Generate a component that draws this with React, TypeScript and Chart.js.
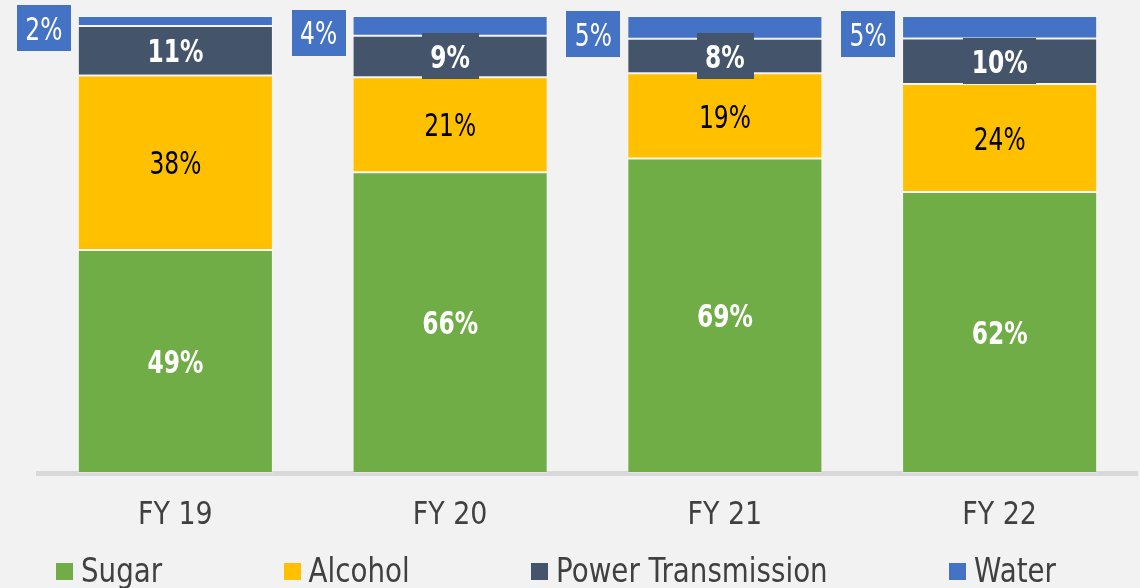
import React, { useEffect, useRef } from "react";
import { Chart, registerables } from "chart.js";

Chart.register(...registerables);

const categories = ["FY 19", "FY 20", "FY 21", "FY 22"];
const seriesNames = ["Sugar", "Alcohol", "Power Transmission", "Water"];
const sugar = [48.8, 65.8, 68.8, 61.5];
const alcohol = [38.2, 20.8, 18.7, 23.6];
const power = [10.8, 9.1, 7.5, 10.0];
const water = [2.2, 4.3, 5.0, 4.9];

const colors = ["#70AD47", "#FFC000", "#44546A", "#4472C4"];
const FONT = '"DejaVu Sans", sans-serif';
const CAP = 0.729;
const TEXT_SX = 0.84;
const LABEL_SX = 0.73;

type LabelStyle = { color: string; weight: string; box: string | null; outside: boolean };
const labelStyles: LabelStyle[] = [
  { color: "#FFFFFF", weight: "bold", box: null, outside: false },
  { color: "#000000", weight: "normal", box: null, outside: false },
  { color: "#FFFFFF", weight: "bold", box: "#44546A", outside: false },
  { color: "#FFFFFF", weight: "normal", box: "#4472C4", outside: true },
];

function drawText(ctx: any, text: string, x: number, baseline: number, sx: number, align: string) {
  ctx.save();
  ctx.textAlign = align;
  ctx.textBaseline = "alphabetic";
  ctx.translate(x, baseline);
  ctx.scale(sx, 1);
  ctx.fillText(text, 0, 0);
  ctx.restore();
}

const segLabels = {
  id: "segLabels",
  afterDatasetsDraw(chart: any) {
    const ctx = chart.ctx;
    const size = 32;
    chart.data.datasets.forEach((ds: any, di: number) => {
      const meta = chart.getDatasetMeta(di);
      const st = labelStyles[di];
      meta.data.forEach((bar: any, i: number) => {
        const p = bar.getProps(["x", "y", "base", "width"], true);
        const text = Math.round(ds.data[i]) + "%";
        ctx.save();
        ctx.font = `${st.weight} ${size}px ${FONT}`;
        const tw = ctx.measureText(text).width * LABEL_SX;
        let cx = p.x;
        let cy = (p.y + p.base) / 2;
        const bh = 46;
        const bw = tw + 17;
        if (st.outside) {
          cx = p.x - p.width / 2 - 7 - bw / 2;
          cy = cy + 7;
        }
        if (st.box) {
          ctx.fillStyle = st.box;
          ctx.fillRect(Math.round(cx - bw / 2), Math.round(cy - bh / 2), Math.round(bw), bh);
        }
        ctx.fillStyle = st.color;
        drawText(ctx, text, cx, cy + (CAP * size) / 2, LABEL_SX, "center");
        ctx.restore();
      });
    });
  },
};

const axisLabels = {
  id: "axisLabels",
  afterDraw(chart: any) {
    const ctx = chart.ctx;
    const xs = chart.scales.x;
    ctx.save();
    ctx.font = `32px ${FONT}`;
    ctx.fillStyle = "#404040";
    chart.data.labels.forEach((lab: string, i: number) => {
      drawText(ctx, lab, xs.getPixelForTick(i), chart.chartArea.bottom + 51, TEXT_SX, "center");
    });
    ctx.restore();
  },
};

const customLegend = {
  id: "customLegend",
  afterDraw(chart: any) {
    const ctx = chart.ctx;
    ctx.save();
    ctx.font = `33px ${FONT}`;
    const box = 17;
    const gapText = 8;
    const left = 56;
    const right = 1056;
    const items = chart.data.datasets.map((ds: any) => ({
      label: ds.label,
      color: ds.backgroundColor,
      w: ctx.measureText(ds.label).width * TEXT_SX,
    }));
    const used = items.reduce((s: number, it: any) => s + box + gapText + it.w, 0);
    const gapItems = (right - left - used) / (items.length - 1);
    let x = left;
    const baseY = 582;
    items.forEach((it: any) => {
      ctx.fillStyle = it.color;
      ctx.fillRect(Math.round(x), 563, box, box);
      x += box + gapText;
      ctx.fillStyle = "#404040";
      drawText(ctx, it.label, x, baseY, TEXT_SX, "left");
      x += it.w + gapItems;
    });
    ctx.restore();
  },
};

export default function App() {
  const ref = useRef<HTMLCanvasElement | null>(null);
  useEffect(() => {
    if (!ref.current) return;
    const values = [sugar, alcohol, power, water];
    const chart = new Chart(ref.current, {
      type: "bar",
      data: {
        labels: categories,
        datasets: seriesNames.map((name, i) => ({
          label: name,
          data: values[i],
          backgroundColor: colors[i],
          borderColor: "rgba(255,255,255,0.3)",
          borderWidth: 1,
          borderSkipped: false,
          barPercentage: 0.71,
          categoryPercentage: 1,
        })),
      },
      options: {
        responsive: false,
        animation: false,
        layout: { padding: { left: 38, right: 3, top: 16, bottom: 115 } },
        plugins: {
          legend: { display: false },
          tooltip: { enabled: false },
        },
        scales: {
          x: {
            stacked: true,
            grid: { display: false, drawTicks: false },
            border: { display: true, color: "#D9D9D9", width: 5 },
            ticks: { display: false },
          },
          y: {
            stacked: true,
            display: false,
            min: 0,
            max: 100,
          },
        },
      },
      plugins: [segLabels, axisLabels, customLegend],
    });
    return () => chart.destroy();
  }, []);
  return (
    <div
      style={{
        position: "absolute",
        left: 0,
        top: 0,
        width: 1140,
        height: 588,
        overflow: "hidden",
        background: "#F2F2F2",
      }}
    >
      <canvas ref={ref} width={1140} height={588} style={{ width: 1140, height: 588, display: "block" }} />
    </div>
  );
}
